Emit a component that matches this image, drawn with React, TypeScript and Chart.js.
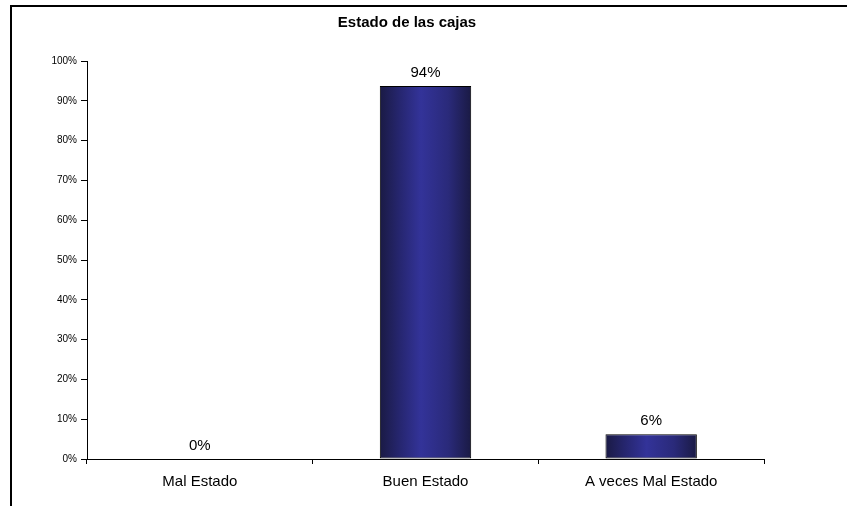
import React, { useEffect, useRef } from "react";
import { Chart, registerables } from "chart.js";

Chart.register(...registerables);

const title = "Estado de las cajas";
const categories = ["Mal Estado", "Buen Estado", "A veces Mal Estado"];
const values = [0, 93.75, 6.25];
const valueLabels = ["0%", "94%", "6%"];
const yMax = 100;
const yStep = 10;

const BAR_PCT = 0.405;
const FONT = "'Liberation Sans', Arial, sans-serif";

const framePlugin = {
  id: "frame",
  beforeDraw(chart: any) {
    const c = chart.ctx;
    c.save();
    c.fillStyle = "#fff";
    c.fillRect(0, 0, chart.width, chart.height);
    c.strokeStyle = "#000";
    c.lineWidth = 2;
    c.strokeRect(11, 6, 1200, 1200);
    c.restore();
  },
};

const valueLabelPlugin = {
  id: "valueLabels",
  afterDatasetsDraw(chart: any) {
    const c = chart.ctx;
    const meta = chart.getDatasetMeta(0);
    c.save();
    c.font = `15px ${FONT}`;
    c.fillStyle = "#000";
    c.textAlign = "center";
    c.textBaseline = "middle";
    meta.data.forEach((el: any, i: number) => {
      c.fillText(valueLabels[i], el.x, el.y - 13);
    });
    c.restore();
  },
};

export default function App() {
  const ref = useRef<HTMLCanvasElement | null>(null);

  useEffect(() => {
    if (!ref.current) return;
    const chart = new Chart(ref.current, {
      type: "bar",
      data: {
        labels: categories,
        datasets: [
          {
            data: values,
            borderColor: "#000",
            borderWidth: 1,
            borderSkipped: false,
            categoryPercentage: 1,
            barPercentage: BAR_PCT,
            backgroundColor: (ctx: any) => {
              const ch = ctx.chart;
              const xs = ch.scales && ch.scales.x;
              if (ctx.type !== "data" || !xs || !ch.chartArea) return "#2e2e88";
              const cx = xs.getPixelForValue(ctx.dataIndex);
              const w = (xs.width / categories.length) * BAR_PCT;
              const g = ch.ctx.createLinearGradient(cx - w / 2, 0, cx + w / 2, 0);
              g.addColorStop(0, "#1a1a44");
              g.addColorStop(0.2, "#25256c");
              g.addColorStop(0.45, "#333399");
              g.addColorStop(0.75, "#2a2a7a");
              g.addColorStop(1, "#1a1a44");
              return g;
            },
          },
        ],
      },
      options: {
        responsive: false,
        animation: false,
        devicePixelRatio: 1,
        layout: { padding: { left: 11, right: 44, top: 0, bottom: 0 } },
        plugins: {
          legend: { display: false },
          tooltip: { enabled: false },
          title: {
            display: true,
            text: title,
            color: "#000",
            font: { family: FONT, size: 15, weight: "bold" },
            padding: { top: 14, bottom: 29 },
          },
        },
        scales: {
          x: {
            type: "category",
            offset: true,
            grid: {
              display: true,
              offset: true,
              drawOnChartArea: false,
              drawTicks: true,
              tickLength: 5,
              color: "#000",
            },
            border: { display: true, color: "#000", width: 1 },
            ticks: {
              color: "#000",
              font: { family: FONT, size: 15 },
              padding: 9,
              maxRotation: 0,
            },
            afterFit: (s: any) => {
              s.height = 47;
            },
          },
          y: {
            type: "linear",
            min: 0,
            max: yMax,
            grid: {
              display: true,
              drawOnChartArea: false,
              drawTicks: true,
              tickLength: 6,
              color: "#000",
            },
            border: { display: true, color: "#000", width: 1 },
            ticks: {
              stepSize: yStep,
              color: "#000",
              font: { family: FONT, size: 10 },
              padding: 4,
              callback: (v: any) => `${v}%`,
            },
            afterFit: (s: any) => {
              s.width = 76;
            },
          },
          yR: {
            type: "linear",
            position: "right",
            display: true,
            grid: { display: false, drawTicks: false },
            border: { display: false },
            ticks: { display: false },
            afterFit: (s: any) => {
              s.width = 39;
            },
          },
        },
      },
      plugins: [framePlugin, valueLabelPlugin],
    } as any);
    return () => chart.destroy();
  }, []);

  return (
    <div style={{ position: "fixed", left: 0, top: 0, width: 847, height: 506, overflow: "hidden", background: "#fff" }}>
      <canvas ref={ref} width={847} height={506} style={{ display: "block", width: 847, height: 506 }} />
    </div>
  );
}
